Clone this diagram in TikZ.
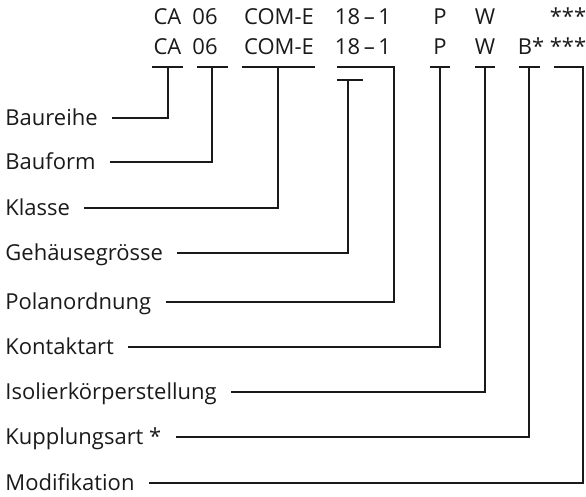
\documentclass[tikz,border=0pt]{standalone}
\usepackage{fontspec}
\setmainfont{Open Sans}
\definecolor{txt}{HTML}{1A1A1A}
\tikzset{
  code/.style={anchor=base, inner sep=0pt, text=txt, font=\fontsize{11}{13}\selectfont},
  lbl/.style={anchor=west, inner xsep=0pt, inner ysep=0pt, text height=7.8pt, text depth=0pt,
              text=txt, font=\fontsize{11}{13}\selectfont},
  conn/.style={line width=0.6pt, color=txt}
}
\begin{document}
\begin{tikzpicture}[x=0.5pt,y=-0.5pt]
\useasboundingbox (0,0) rectangle (586,497);

% first row
\node [code] (ca1)  at (167.5,25) {CA};
\node [code] (bf1)  at (205,25) {06};
\node [code] (kl1)  at (279,25) {COM-E};
\node [code] (gr1)  at (363,25) {18\,--\,1};
\node [code] (p1)   at (440,25) {P};
\node [code] (w1)   at (485,25) {W};
\node [code] (mo1)  at (568,25) {***};

% second row
\node [code] (ca)  at (167.5,55) {CA};
\node [code] (bf)  at (205,55) {06};
\node [code] (kl)  at (279,55) {COM-E};
\node [code] (gr)  at (363,55) {18\,--\,1};
\node [code] (p)   at (440,55) {P};
\node [code] (w)   at (485,55) {W};
\node [code] (b)   at (531,55) {B*};
\node [code] (mo)  at (568,55) {***};

% labels
\node [lbl] (baureihe) at (5,118) {Baureihe};
\node [lbl] (bauform)  at (5,162) {Bauform};
\node [lbl] (klasse)   at (5,208) {Klasse};
\node [lbl] (gehaeuse) at (5,253) {Gehäusegrösse};
\node [lbl] (polan)    at (5,302) {Polanordnung};
\node [lbl] (kontakt)  at (5,347) {Kontaktart};
\node [lbl] (isolier)  at (5,392) {Isolierkörperstellung};
\node [lbl] (kuppl)    at (5,437) {Kupplungsart *};
\node [lbl] (modif)    at (5,483) {Modifikation};

% junctions under the codes
\coordinate (tca) at (168,67);
\coordinate (tbf) at (212,67);
\coordinate (tkl) at (278,67);
\coordinate (tgr) at (348,80);
\coordinate (tpo) at (394,67);
\coordinate (tp)  at (440,67);
\coordinate (tw)  at (485,67);
\coordinate (tb)  at (529,67);
\coordinate (tmo) at (583,67);

% underlines
\draw [conn] (152,67) -- (183,67);
\draw [conn] (197,67) -- (228,67);
\draw [conn] (242,67) -- (315,67);
\draw [conn] (337,80) -- (363,80);
\draw [conn] (430,67) -- (450,67);
\draw [conn] (475,67) -- (495,67);
\draw [conn] (519,67) -- (540,67);

% connectors
\draw [conn] ([xshift=7pt]baureihe.east) -| (tca);
\draw [conn] ([xshift=7pt]bauform.east) -| (tbf);
\draw [conn] ([xshift=7pt]klasse.east) -| (tkl);
\draw [conn] ([xshift=7pt]gehaeuse.east) -| (tgr);
\draw [conn] ([xshift=7pt]polan.east) -| (tpo) -- (337,67);
\draw [conn] ([xshift=7pt]kontakt.east) -| (tp);
\draw [conn] ([xshift=7pt]isolier.east) -| (tw);
\draw [conn] ([xshift=7pt]kuppl.east) -| (tb);
\draw [conn] ([xshift=7pt]modif.east) -| (tmo) -- (554,67);
\end{tikzpicture}
\end{document}
